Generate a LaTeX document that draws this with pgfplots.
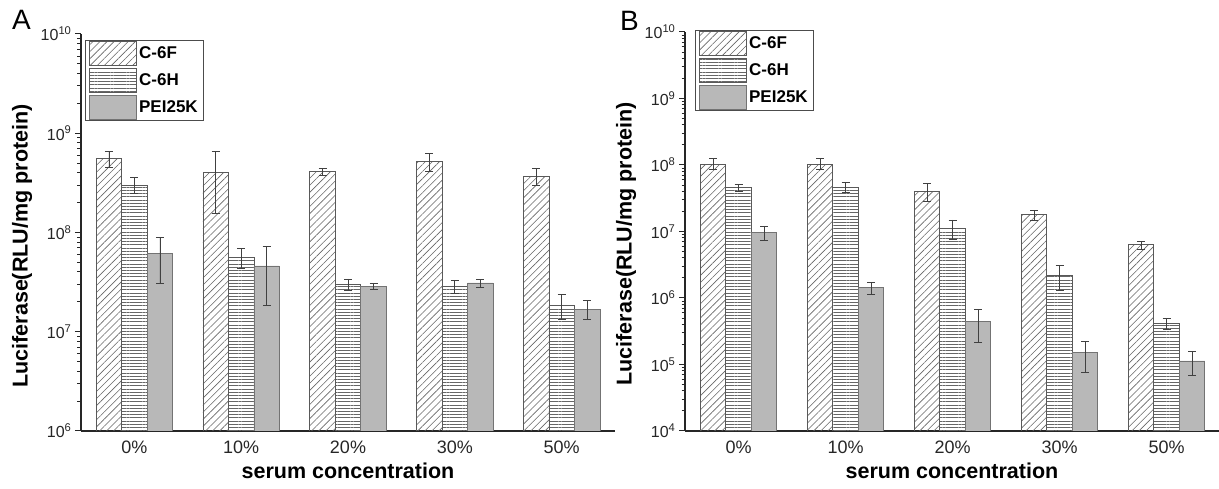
\documentclass[border=0pt]{standalone}
\usepackage{fontspec}
\setmainfont{Liberation Sans}
\usepackage{pgfplots}
\usepackage{pgfplotstable}
\pgfplotsset{compat=1.18}
\usetikzlibrary{patterns.meta}

\pgfplotstableread{
x v ep em
0 5.6e8 1.0e8 1.1e8
1 4.0e8 2.5e8 2.45e8
2 4.1e8 0.3e8 0.3e8
3 5.2e8 1.0e8 1.1e8
4 3.7e8 0.7e8 0.7e8
}\AF
\pgfplotstableread{
x v ep em
0 3.0e8 0.55e8 0.5e8
1 5.6e7 1.3e7 1.3e7
2 3.0e7 0.4e7 0.4e7
3 2.9e7 0.4e7 0.45e7
4 1.83e7 0.54e7 0.51e7
}\AH
\pgfplotstableread{
x v ep em
0 6.2e7 2.8e7 3.1e7
1 4.6e7 2.7e7 2.75e7
2 2.85e7 0.2e7 0.2e7
3 3.1e7 0.25e7 0.3e7
4 1.69e7 0.36e7 0.37e7
}\AP
\pgfplotstableread{
x v ep em
0 1.03e8 0.21e8 0.17e8
1 1.03e8 0.22e8 0.17e8
2 4.0e7 1.2e7 1.15e7
3 1.79e7 0.31e7 0.34e7
4 6.3e6 0.9e6 0.9e6
}\BF
\pgfplotstableread{
x v ep em
0 4.56e7 0.54e7 0.49e7
1 4.6e7 0.8e7 0.7e7
2 1.12e7 0.37e7 0.37e7
3 2.22e6 0.88e6 0.93e6
4 4.17e5 0.78e5 0.77e5
}\BH
\pgfplotstableread{
x v ep em
0 9.8e6 2.3e6 2.4e6
1 1.43e6 0.27e6 0.28e6
2 4.4e5 2.3e5 2.24e5
3 1.5e5 0.7e5 0.74e5
4 1.13e5 0.42e5 0.44e5
}\BP

\tikzset{
 sF/.style={draw=black!65, line width=0.7pt, pattern={Lines[angle=45,distance=5pt,line width=0.6pt]}, pattern color=black!60},
 sH/.style={draw=black!65, line width=0.7pt, pattern={Lines[angle=0,distance=3.2pt,line width=0.6pt]}, pattern color=black!60},
 sP/.style={draw=black!55, line width=0.7pt, fill=black!28},
}
\pgfplotsset{
 every axis/.append style={
  scale only axis, width=534pt,
  xmin=-0.5, xmax=4.5,
  axis x line*=bottom, axis y line*=left,
  axis line style={line width=1.4pt, color=black!85},
  xtick={0,...,4}, xticklabels={0\%,10\%,20\%,30\%,50\%},
  major x tick style={draw=none},
  tick align=outside,
  major tick length=6pt, minor tick length=3.5pt,
  y tick style={line width=1pt, color=black!85},
  yticklabel style={font=\fontsize{16}{16}\selectfont, color=black!85},
  xticklabel style={font=\fontsize{18}{18}\selectfont, color=black!85},
  xlabel={serum concentration},
  ylabel={Luciferase(RLU/mg protein)},
  label style={font=\fontsize{21.5}{22}\selectfont\bfseries},
  xlabel style={at={(axis description cs:0.5,-0.1)}, anchor=center},
  ybar=0pt, bar width=25.5pt,
  legend style={draw=black!70, line width=0.9pt, font=\fontsize{17}{17}\selectfont\bfseries, legend cell align=left, inner xsep=3.5pt, inner ysep=1pt, row sep=2pt, nodes={inner xsep=2.5pt, inner ysep=0.5pt}},
 },
 eb/.style={
  legend image code/.code={\draw[##1] (0pt,-12pt) rectangle (47pt,12pt);},
  error bars/.cd, y dir=both, y explicit, error bar style={line width=0.8pt, color=black!75}, error mark options={rotate=90, line width=0.8pt, color=black!75, mark size=4pt}},
}

\begin{document}
\begin{tikzpicture}
\useasboundingbox (0,0) rectangle (1219pt,488pt);
\begin{semilogyaxis}[at={(81pt,57pt)}, anchor=south west, height=397pt,
  log basis y=10,
  yticklabel={10\textsuperscript{\pgfmathparse{round(\tick)}\pgfmathprintnumber[fixed,precision=0,assume math mode=true]{\pgfmathresult}}},
  ymin=1e6, ymax=1e10,
  ylabel style={at={(axis description cs:-0.1105,0.466)}, anchor=center},
  legend style={at={(axis description cs:0.0075,0.985)}, anchor=north west}]
\addplot[sF, eb] table[x=x, y=v, y error plus=ep, y error minus=em] {\AF};
\addplot[sH, eb] table[x=x, y=v, y error plus=ep, y error minus=em] {\AH};
\addplot[sP, eb] table[x=x, y=v, y error plus=ep, y error minus=em] {\AP};
\legend{C-6F, C-6H, PEI25K}
\end{semilogyaxis}
\node[font=\fontsize{28}{28}\selectfont, anchor=base west, inner sep=0pt] at (12pt,458pt) {A};

\begin{semilogyaxis}[at={(685pt,57pt)}, anchor=south west, height=399pt,
  log basis y=10,
  yticklabel={10\textsuperscript{\pgfmathparse{round(\tick)}\pgfmathprintnumber[fixed,precision=0,assume math mode=true]{\pgfmathresult}}},
  ymin=1e4, ymax=1e10, xmax=4.49,
  ylabel style={at={(axis description cs:-0.1105,0.469)}, anchor=center},
  legend style={at={(axis description cs:0.0187,1.005)}, anchor=north west}]
\addplot[sF, eb] table[x=x, y=v, y error plus=ep, y error minus=em] {\BF};
\addplot[sH, eb] table[x=x, y=v, y error plus=ep, y error minus=em] {\BH};
\addplot[sP, eb] table[x=x, y=v, y error plus=ep, y error minus=em] {\BP};
\legend{C-6F, C-6H, PEI25K}
\end{semilogyaxis}
\node[font=\fontsize{28}{28}\selectfont, anchor=base west, inner sep=0pt] at (620pt,457pt) {B};
\end{tikzpicture}
\end{document}
